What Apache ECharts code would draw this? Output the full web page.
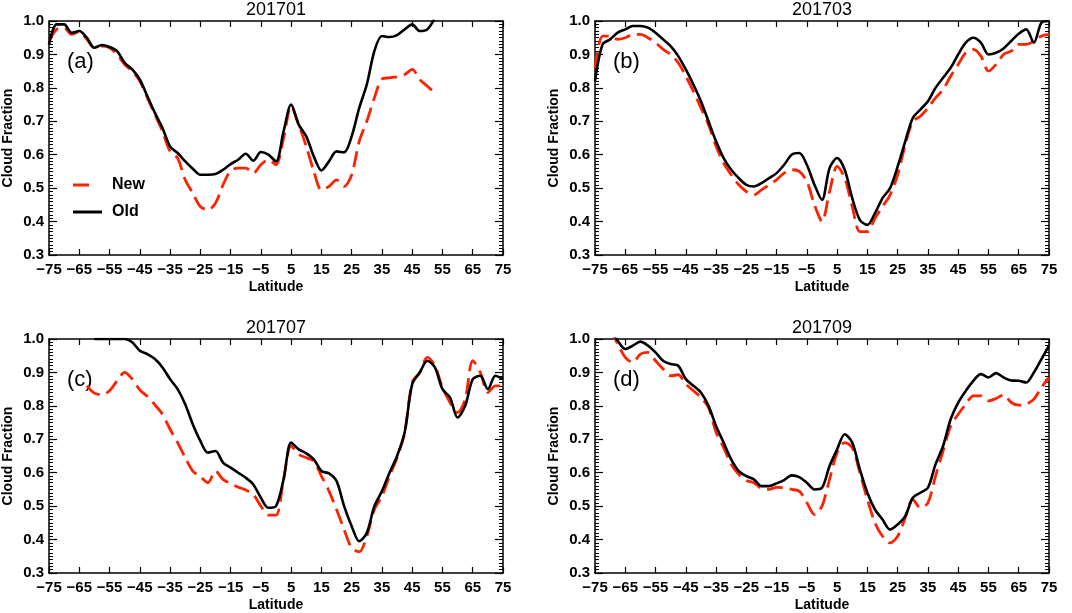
<!DOCTYPE html>
<html>
<head>
<meta charset="utf-8">
<script src="https://cdn.jsdelivr.net/npm/echarts@6/dist/echarts.min.js"></script>
<style>
  html, body { margin: 0; padding: 0; background: #fff; }
  #chart { width: 1072px; height: 613px; }
</style>
</head>
<body>
<div id="chart"></div>
<script>
// latitude grid, every 2.5 degrees from -75 to 75
const lat = [];
for (let v = -75; v <= 75; v += 2.5) lat.push(v);

const panelTitles = ['201701', '201703', '201707', '201709'];
const panelTags = ['(a)', '(b)', '(c)', '(d)'];

// cloud fraction, one value per latitude (null = no data)
const oldJan = [0.93, 0.99, 0.99, 0.965, 0.97, 0.95, 0.92, 0.928, 0.922, 0.91,
  0.875, 0.855, 0.825, 0.775, 0.725, 0.68, 0.625, 0.605, 0.58, 0.558,
  0.54, 0.54, 0.542, 0.555, 0.572, 0.585, 0.603, 0.582, 0.608, 0.6,
  0.58, 0.67, 0.75, 0.69, 0.655, 0.595, 0.553, 0.58, 0.61, 0.607,
  0.655, 0.74, 0.81, 0.91, 0.955, 0.952, 0.958, 0.975, 0.99, 0.97,
  0.975, 1.01, null, null, null, null, null, null, null, null, null];
const newJan = [0.94, 0.975, 0.98, 0.96, 0.968, 0.945, 0.92, 0.925, 0.92, 0.9,
  0.87, 0.85, 0.82, 0.77, 0.72, 0.67, 0.61, 0.59, 0.525, 0.485,
  0.445, 0.435, 0.455, 0.51, 0.552, 0.56, 0.56, 0.545, 0.57, 0.585,
  0.57, 0.65, 0.745, 0.69, 0.625, 0.55, 0.495, 0.505, 0.525, 0.505,
  0.54, 0.64, 0.7, 0.77, 0.826, 0.83, 0.833, 0.84, 0.855, 0.825,
  0.805, 0.785, null, null, null, null, null, null, null, null, null];

const oldMar = [0.82, 0.93, 0.945, 0.965, 0.975, 0.985, 0.985, 0.98, 0.965, 0.945,
  0.925, 0.895, 0.855, 0.81, 0.76, 0.7, 0.64, 0.59, 0.555, 0.53,
  0.51, 0.505, 0.515, 0.53, 0.545, 0.57, 0.6, 0.605, 0.57, 0.51,
  0.465, 0.56, 0.59, 0.555, 0.47, 0.405, 0.39, 0.425, 0.47, 0.5,
  0.565, 0.64, 0.71, 0.735, 0.76, 0.8, 0.83, 0.86, 0.9, 0.935,
  0.95, 0.935, 0.9, 0.905, 0.918, 0.94, 0.962, 0.975, 0.935, 0.995,
  1.0];
const newMar = [0.86, 0.955, 0.955, 0.945, 0.95, 0.96, 0.96, 0.95, 0.935, 0.915,
  0.9, 0.875, 0.835, 0.79, 0.74, 0.69, 0.625, 0.575, 0.54, 0.51,
  0.49, 0.48, 0.495, 0.51, 0.525, 0.545, 0.555, 0.55, 0.52, 0.45,
  0.4, 0.49, 0.565, 0.53, 0.445, 0.37, 0.37, 0.41, 0.445, 0.48,
  0.54, 0.63, 0.7, 0.715, 0.74, 0.77, 0.795, 0.835, 0.87, 0.905,
  0.915, 0.895, 0.85, 0.87, 0.9, 0.91, 0.93, 0.93, 0.94, 0.955,
  0.96];

const oldJul = [null, null, null, null, null, null, 1.0, 1.0, 1.0, 1.0,
  1.0, 0.99, 0.965, 0.955, 0.94, 0.915, 0.88, 0.85, 0.805, 0.745,
  0.695, 0.66, 0.665, 0.63, 0.615, 0.6, 0.585, 0.565, 0.525, 0.495,
  0.5, 0.58, 0.69, 0.67, 0.658, 0.64, 0.605, 0.598, 0.575, 0.5,
  0.44, 0.395, 0.42, 0.5, 0.545, 0.6, 0.65, 0.72, 0.865, 0.9,
  0.935, 0.915, 0.85, 0.825, 0.765, 0.8, 0.88, 0.89, 0.85, 0.89,
  0.88];
const newJul = [null, null, null, null, null, 0.86, 0.838, 0.833, 0.845, 0.875,
  0.9, 0.88, 0.848, 0.828, 0.803, 0.775, 0.73, 0.69, 0.645, 0.605,
  0.588, 0.57, 0.605, 0.58, 0.567, 0.557, 0.548, 0.535, 0.5, 0.473,
  0.473, 0.58, 0.68, 0.655, 0.645, 0.635, 0.59, 0.545, 0.49, 0.43,
  0.375, 0.363, 0.41, 0.49, 0.53, 0.59, 0.645, 0.72, 0.87, 0.9,
  0.945, 0.92, 0.855, 0.81, 0.78, 0.82, 0.935, 0.9, 0.84, 0.86,
  0.86];

const oldSep = [null, null, 1.03, 0.995, 0.97, 0.98, 0.992, 0.98, 0.96, 0.935,
  0.925, 0.92, 0.88, 0.86, 0.84, 0.8, 0.74, 0.69, 0.64, 0.605,
  0.59, 0.58, 0.56, 0.56, 0.568, 0.578, 0.592, 0.587, 0.57, 0.55,
  0.555, 0.62, 0.67, 0.715, 0.69, 0.61, 0.54, 0.49, 0.46, 0.43,
  0.445, 0.47, 0.525, 0.54, 0.555, 0.625, 0.68, 0.76, 0.81, 0.845,
  0.875, 0.895, 0.885, 0.898, 0.885, 0.876, 0.875, 0.87, 0.9, 0.94,
  0.98];
const newSep = [null, null, 1.03, 0.985, 0.945, 0.93, 0.955, 0.96, 0.935, 0.91,
  0.89, 0.893, 0.865, 0.845, 0.825, 0.795, 0.72, 0.675, 0.625, 0.595,
  0.577, 0.57, 0.553, 0.55, 0.556, 0.555, 0.55, 0.545, 0.51, 0.475,
  0.5, 0.58, 0.66, 0.69, 0.675, 0.6, 0.52, 0.45, 0.41, 0.39,
  0.41, 0.465, 0.52, 0.495, 0.51, 0.59, 0.665, 0.74, 0.775, 0.805,
  0.83, 0.83, 0.815, 0.822, 0.833, 0.81, 0.802, 0.805, 0.82, 0.855,
  0.885];

const oldSets = [oldJan, oldMar, oldJul, oldSep];
const newSets = [newJan, newMar, newJul, newSep];

const FONT = 'Liberation Sans';
const RED = '#ff2200';
const DASH = [16, 7];

const grids = [
  { left: 49, top: 21, width: 454, height: 234 },
  { left: 595, top: 21, width: 454, height: 234 },
  { left: 49, top: 339, width: 454, height: 235 },
  { left: 595, top: 339, width: 454, height: 235 }
];

function pairs(arr) {
  return lat.map((x, i) => [x, arr[i]]);
}

const axisLine = { show: true, onZero: false, lineStyle: { color: '#000', width: 1.5 } };
const tickStyle = { color: '#000', width: 1.2 };

let xAxis = [], yAxis = [], series = [], title = [], graphic = [];
grids.forEach((g, i) => {
  xAxis.push({
    gridIndex: i, type: 'value', min: -75, max: 75, interval: 10, position: 'bottom',
    axisLine: axisLine,
    axisTick: { show: true, inside: true, length: 6, lineStyle: tickStyle },
    axisLabel: {
      color: '#000', fontFamily: FONT, fontWeight: 'bold', fontSize: 15, margin: 7,
      showMinLabel: true, showMaxLabel: true, hideOverlap: false,
      formatter: v => (v < 0 ? '\u2212' + Math.abs(v) : String(v))
    },
    splitLine: { show: false },
    name: 'Latitude', nameLocation: 'middle', nameGap: 25,
    nameTextStyle: { color: '#000', fontFamily: FONT, fontWeight: 'bold', fontSize: 14 }
  });
  xAxis.push({
    gridIndex: i, type: 'value', min: -75, max: 75, interval: 10, position: 'top',
    axisLine: axisLine,
    axisTick: { show: true, inside: true, length: 6, lineStyle: tickStyle },
    axisLabel: { show: false },
    splitLine: { show: false }
  });
  yAxis.push({
    gridIndex: i, type: 'value', min: 0.3, max: 1.0, interval: 0.1, position: 'left',
    axisLine: axisLine,
    axisTick: { show: true, inside: true, length: 8, lineStyle: tickStyle },
    minorTick: { show: true, splitNumber: 10, length: 4, lineStyle: { color: '#000', width: 1 } },
    axisLabel: {
      color: '#000', fontFamily: FONT, fontWeight: 'bold', fontSize: 15, margin: 5,
      formatter: v => v.toFixed(1)
    },
    splitLine: { show: false },
    name: 'Cloud Fraction', nameLocation: 'middle', nameGap: 34, nameRotate: 90,
    nameTextStyle: { color: '#000', fontFamily: FONT, fontWeight: 'bold', fontSize: 14 }
  });
  yAxis.push({
    gridIndex: i, type: 'value', min: 0.3, max: 1.0, interval: 0.1, position: 'right',
    axisLine: axisLine,
    axisTick: { show: true, inside: true, length: 8, lineStyle: tickStyle },
    minorTick: { show: true, splitNumber: 10, length: 4, lineStyle: { color: '#000', width: 1 } },
    axisLabel: { show: false },
    splitLine: { show: false }
  });

  series.push({
    name: 'New', type: 'line', xAxisIndex: 2 * i, yAxisIndex: 2 * i,
    data: pairs(newSets[i]), smooth: 0.3, symbol: 'none', connectNulls: false, clip: true,
    lineStyle: { color: RED, width: 2.8, type: DASH }, itemStyle: { color: RED }, z: 2
  });
  series.push({
    name: 'Old', type: 'line', xAxisIndex: 2 * i, yAxisIndex: 2 * i,
    data: pairs(oldSets[i]), smooth: 0.3, symbol: 'none', connectNulls: false, clip: true,
    lineStyle: { color: '#000', width: 2.6 }, itemStyle: { color: '#000' }, z: 3
  });

  title.push({
    text: panelTitles[i], left: g.left + g.width / 2, top: g.top - 20, textAlign: 'center',
    padding: 0,
    textStyle: { color: '#000', fontFamily: FONT, fontWeight: 'normal', fontSize: 18 }
  });
  graphic.push({
    type: 'text', left: g.left + 18, top: g.top + 30,
    style: { text: panelTags[i], fill: '#000', font: '22px ' + FONT }
  });
});

// legend keys in panel (a)
graphic.push(
  { type: 'line', shape: { x1: 73, y1: 185, x2: 89, y2: 185 }, style: { stroke: RED, lineWidth: 3 } },
  { type: 'text', left: 112, top: 177, style: { text: 'New', fill: '#000', font: 'bold 16px ' + FONT } },
  { type: 'line', shape: { x1: 73, y1: 212, x2: 102, y2: 212 }, style: { stroke: '#000', lineWidth: 3 } },
  { type: 'text', left: 112, top: 204, style: { text: 'Old', fill: '#000', font: 'bold 16px ' + FONT } }
);

const chart = echarts.init(document.getElementById('chart'));
chart.setOption({
  backgroundColor: '#fff',
  animation: false,
  title: title,
  grid: grids,
  xAxis: xAxis,
  yAxis: yAxis,
  graphic: graphic,
  series: series
});
</script>
</body>
</html>
